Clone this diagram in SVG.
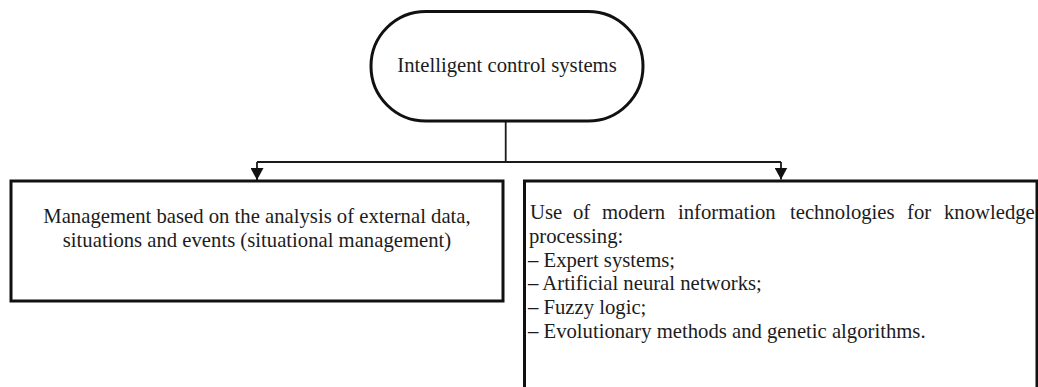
<svg xmlns="http://www.w3.org/2000/svg" width="1038" height="387" viewBox="0 0 1038 387">
  <style>
    .box { fill: #ffffff; stroke: #111111; stroke-width: 3; }
    .txt { font-size: 20.7px; fill: #1c1c1c; }
    .ctr { text-anchor: middle; }
    .conn { fill: none; stroke: #1a1a1a; stroke-width: 1.8; }
  </style>
  <defs>
    <marker id="arrow" markerUnits="userSpaceOnUse" markerWidth="12" markerHeight="13" refX="12" refY="6.5" orient="auto">
      <path d="M0,0 L12,6.5 L0,13 Z" fill="#111111"/>
    </marker>
  </defs>
  <rect width="1038" height="387" fill="#ffffff"/>

  <g id="connectors">
    <path class="conn" d="M505.7,121 V162"/>
    <path class="conn" d="M257,162 H781"/>
    <path class="conn" d="M257,162 V180" marker-end="url(#arrow)"/>
    <path class="conn" d="M781,162 V179.5" marker-end="url(#arrow)"/>
  </g>

  <g font-family="'Liberation Serif', 'DejaVu Serif', serif">
  <g id="node-intelligent-control-systems">
    <rect class="box" x="371" y="11.5" width="272" height="109.5" rx="54.75" ry="54.75"/>
    <text class="txt ctr" x="507" y="72">Intelligent control systems</text>
  </g>

  <g id="node-situational-management">
    <rect class="box" x="11" y="181" width="492" height="120"/>
    <text class="txt ctr" x="257" y="223">Management based on the analysis of external data,</text>
    <text class="txt ctr" x="257" y="247">situations and events (situational management)</text>
  </g>

  <g id="node-information-technologies">
    <rect class="box" x="524.5" y="181" width="512.5" height="230"/>
    <text class="txt" y="219"><tspan x="530">Use</tspan><tspan x="573">of</tspan><tspan x="602">modern</tspan><tspan x="678">information</tspan><tspan x="790">technologies</tspan><tspan x="907">for</tspan><tspan x="944">knowledge</tspan></text>
    <text class="txt" x="529" y="242.8">processing:</text>
    <text class="txt" x="528" y="266.6">– Expert systems;</text>
    <text class="txt" x="528" y="290.4">– Artificial neural networks;</text>
    <text class="txt" x="528" y="314.2">– Fuzzy logic;</text>
    <text class="txt" x="528" y="338">– Evolutionary methods and genetic algorithms.</text>
  </g>
  </g>
</svg>
